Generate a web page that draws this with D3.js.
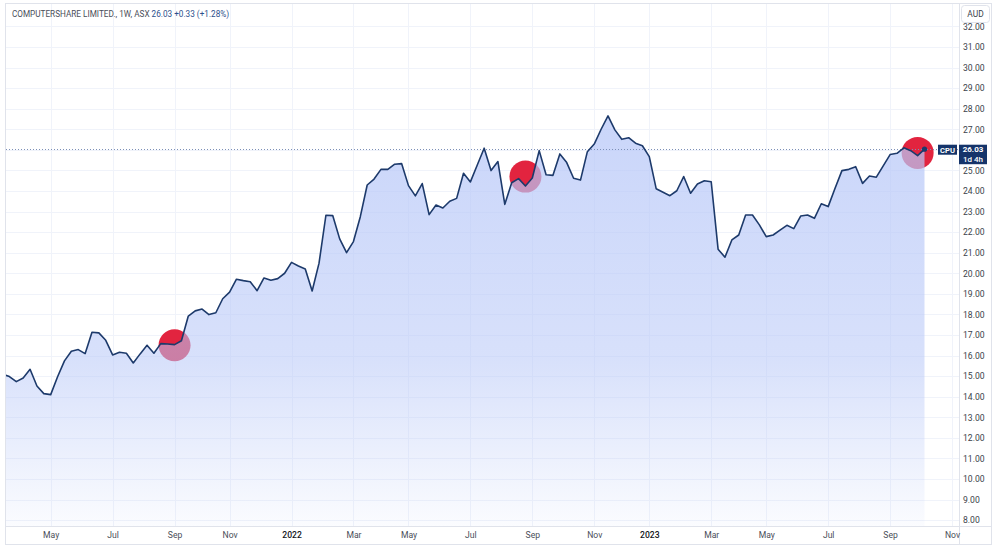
<!DOCTYPE html>
<html>
<head>
<meta charset="utf-8">
<script src="https://cdn.jsdelivr.net/npm/d3@7"></script>
<style>
  html, body { margin: 0; padding: 0; background: #ffffff; }
  svg { display: block; font-family: Roboto, "Liberation Sans", sans-serif; }
</style>
</head>
<body>
<div id="chart"></div>
<script>
// weekly closes, CPU (ASX), first bar = week of 15 Mar 2021
var firstWeek = "2021-03-15";
var closes = [
    15.10, 14.98, 14.73, 14.91, 15.33, 14.52, 14.15, 14.10, 14.97, 15.74,
    16.21, 16.29, 16.09, 17.13, 17.10, 16.74, 16.03, 16.16, 16.11, 15.64,
    16.08, 16.50, 16.11, 16.58, 16.56, 16.53, 16.72, 17.92, 18.17, 18.26,
    17.99, 18.08, 18.76, 19.08, 19.71, 19.64, 19.59, 19.15, 19.77, 19.66,
    19.74, 20.00, 20.53, 20.35, 20.21, 19.14, 20.49, 22.82, 22.80, 21.67,
    21.00, 21.54, 22.75, 24.29, 24.58, 25.05, 25.05, 25.30, 25.33, 24.26,
    23.76, 24.36, 22.85, 23.32, 23.17, 23.50, 23.64, 24.86, 24.44, 25.26,
    26.08, 24.99, 25.43, 23.35, 24.40, 24.60, 24.24, 24.63, 25.96, 24.79,
    24.76, 25.80, 25.38, 24.62, 24.53, 25.91, 26.28, 27.00, 27.65, 26.97,
    26.51, 26.59, 26.32, 26.20, 25.67, 24.11, 23.94, 23.77, 24.01, 24.70,
    23.89, 24.34, 24.50, 24.45, 21.17, 20.78, 21.62, 21.86, 22.83, 22.83,
    22.35, 21.78, 21.86, 22.10, 22.33, 22.17, 22.78, 22.83, 22.67, 23.38,
    23.24, 24.13, 24.99, 25.05, 25.18, 24.37, 24.73, 24.67, 25.22, 25.77,
    25.83, 26.10, 25.96, 25.72, 26.03
];

var markerDates  = ["2021-09-06", "2022-08-29", "2023-10-02"];
var markerValues = [16.50, 24.70, 25.85];

var monthTickDates = ["2021-05-03", "2021-07-05", "2021-09-06", "2021-11-01",
                      "2022-01-03", "2022-03-07", "2022-05-02", "2022-07-04",
                      "2022-09-05", "2022-11-07", "2023-01-02", "2023-03-06",
                      "2023-05-01", "2023-07-03", "2023-09-04", "2023-11-06"];
var monthTickLabels = ["May", "Jul", "Sep", "Nov", "2022", "Mar", "May", "Jul",
                       "Sep", "Nov", "2023", "Mar", "May", "Jul", "Sep", "Nov"];

var priceTicks = d3.range(8, 33, 1);

var symbol = "CPU";
var title = "COMPUTERSHARE LIMITED., 1W, ASX";
var lastText = "26.03";
var changeText = "+0.33 (+1.28%)";
var countdown = "1d 4h";

////////////////////////////////////////////////////////////////////////

var width = 1000, height = 549;
var plotLeft = 6, plotRight = 959, plotTop = 4, plotBottom = 526;
var lineColor = "#1d3a6b";

var parseDay = d3.utcParse("%Y-%m-%d");
var start = parseDay(firstWeek);
var data = closes.map(function (v, i) {
    return { date: d3.utcWeek.offset(start, i), value: v };
});
var last = data[data.length - 1];

var x = d3.scaleUtc()
          .domain([data[0].date, last.date])
          .range([2.54, 924.5]);

var y = d3.scaleLinear()
          .domain([8, 32])
          .range([520.1, 26.4]);

var svg = d3.select("#chart").append("svg")
            .attr("width", width)
            .attr("height", height);

var defs = svg.append("defs");
defs.append("clipPath").attr("id", "plotClip")
    .append("rect")
    .attr("x", plotLeft).attr("y", plotTop)
    .attr("width", plotRight - plotLeft)
    .attr("height", plotBottom - plotTop);

var grad = defs.append("linearGradient")
               .attr("id", "areaFill")
               .attr("gradientUnits", "userSpaceOnUse")
               .attr("x1", 0).attr("x2", 0)
               .attr("y1", y(d3.max(closes))).attr("y2", plotBottom);
grad.append("stop").attr("offset", "0%").attr("stop-color", "#b8c8f8").attr("stop-opacity", 0.75);
grad.append("stop").attr("offset", "60%").attr("stop-color", "#b8c8f8").attr("stop-opacity", 0.55);
grad.append("stop").attr("offset", "100%").attr("stop-color", "#b8c8f8").attr("stop-opacity", 0.06);

// grid
var grid = svg.append("g").attr("class", "grid");
grid.selectAll(".hgrid")
    .data(priceTicks)
    .enter().append("line")
    .attr("x1", plotLeft).attr("x2", plotRight)
    .attr("y1", function (d) { return Math.round(y(d)) + 0.5; })
    .attr("y2", function (d) { return Math.round(y(d)) + 0.5; })
    .attr("stroke", "#f0f3fa");
grid.selectAll(".vgrid")
    .data(monthTickDates)
    .enter().append("line")
    .attr("x1", function (d) { return Math.round(x(parseDay(d))) + 0.5; })
    .attr("x2", function (d) { return Math.round(x(parseDay(d))) + 0.5; })
    .attr("y1", plotTop).attr("y2", plotBottom)
    .attr("stroke", "#f0f3fa");

var plot = svg.append("g").attr("clip-path", "url(#plotClip)");

// markers sit under the area fill
plot.selectAll(".marker")
    .data(markerDates)
    .enter().append("circle")
    .attr("cx", function (d) { return x(parseDay(d)); })
    .attr("cy", function (d, i) { return y(markerValues[i]); })
    .attr("r", 16)
    .attr("fill", "#e2243f");

var area = d3.area()
             .x(function (d) { return x(d.date); })
             .y0(plotBottom)
             .y1(function (d) { return y(d.value); });

plot.append("path")
    .datum(data)
    .attr("d", area)
    .attr("fill", "url(#areaFill)");

// last price line
plot.append("line")
    .attr("x1", plotLeft).attr("x2", plotRight)
    .attr("y1", Math.round(y(last.value)) + 0.5)
    .attr("y2", Math.round(y(last.value)) + 0.5)
    .attr("stroke", "#7d90b8")
    .attr("stroke-dasharray", "1 2");

var line = d3.line()
             .x(function (d) { return x(d.date); })
             .y(function (d) { return y(d.value); });

plot.append("path")
    .datum(data)
    .attr("d", line)
    .attr("fill", "none")
    .attr("stroke", lineColor)
    .attr("stroke-width", 1.6)
    .attr("stroke-linejoin", "round");

plot.append("circle")
    .attr("cx", x(last.date))
    .attr("cy", y(last.value))
    .attr("r", 2.6)
    .attr("fill", lineColor);

// frame and separators
svg.append("rect")
   .attr("x", 5.5).attr("y", 3.5)
   .attr("width", 986).attr("height", 541)
   .attr("fill", "none")
   .attr("stroke", "#e0e3eb");
svg.append("line")
   .attr("x1", plotRight + 0.5).attr("x2", plotRight + 0.5)
   .attr("y1", 3.5).attr("y2", 544.5)
   .attr("stroke", "#e0e3eb");
svg.append("line")
   .attr("x1", 5.5).attr("x2", 991.5)
   .attr("y1", plotBottom + 0.5).attr("y2", plotBottom + 0.5)
   .attr("stroke", "#e0e3eb");

// price axis
var yAxis = d3.axisRight(y)
              .tickValues(priceTicks)
              .tickSize(0)
              .tickPadding(0)
              .tickFormat(d3.format(".2f"));
var yg = svg.append("g")
            .attr("transform", "translate(963,0)")
            .call(yAxis);
yg.select(".domain").remove();
yg.selectAll("text")
  .attr("font-size", 8.6)
  .attr("font-family", "Roboto, sans-serif")
  .attr("fill", "#3b3f4a");

// time axis
var xAxis = d3.axisBottom(x)
              .tickValues(monthTickDates.map(parseDay))
              .tickSize(0)
              .tickPadding(0)
              .tickFormat(function (d, i) { return monthTickLabels[i]; });
var xg = svg.append("g")
            .attr("transform", "translate(0,532)")
            .call(xAxis);
xg.select(".domain").remove();
xg.selectAll("text")
  .attr("font-size", 8.6)
  .attr("font-family", "Roboto, sans-serif")
  .attr("fill", function (d, i) { return /^\d/.test(monthTickLabels[i]) ? "#131722" : "#4a4e59"; })
  .attr("font-weight", function (d, i) { return /^\d/.test(monthTickLabels[i]) ? 500 : 400; });

// AUD box
svg.append("rect")
   .attr("x", 961.5).attr("y", 5.5)
   .attr("width", 28).attr("height", 17)
   .attr("rx", 3)
   .attr("fill", "#ffffff")
   .attr("stroke", "#e0e3eb");
svg.append("text")
   .attr("x", 975.5).attr("y", 17)
   .attr("text-anchor", "middle")
   .attr("font-size", 8.4)
   .attr("fill", "#3b3f4a")
   .text("AUD");

// symbol tag + price label
var yLast = y(last.value);
svg.append("rect")
   .attr("x", 938).attr("y", yLast - 4.5)
   .attr("width", 19).attr("height", 10)
   .attr("fill", "#15346a");
svg.append("text")
   .attr("x", 947.5).attr("y", yLast + 3.3)
   .attr("text-anchor", "middle")
   .attr("font-size", 7.6)
   .attr("font-weight", 700)
   .attr("fill", "#ffffff")
   .text(symbol);
svg.append("rect")
   .attr("x", 959).attr("y", yLast - 4.5)
   .attr("width", 28).attr("height", 19.5)
   .attr("fill", "#15346a");
svg.append("text")
   .attr("x", 973).attr("y", yLast + 3.2)
   .attr("text-anchor", "middle")
   .attr("font-size", 8)
   .attr("font-weight", 700)
   .attr("fill", "#ffffff")
   .text(lastText);
svg.append("text")
   .attr("x", 973).attr("y", yLast + 12.4)
   .attr("text-anchor", "middle")
   .attr("font-size", 8)
   .attr("font-weight", 500)
   .attr("fill", "#ffffff")
   .text(countdown);

// header
var header = svg.append("text")
                .attr("x", 12).attr("y", 16.5)
                .attr("font-size", 8.2)
                .attr("fill", "#4a4e59");
header.append("tspan").text(title + " ");
header.append("tspan").attr("fill", "#2c4f8c").text(lastText + "  " + changeText);
</script>
</body>
</html>
